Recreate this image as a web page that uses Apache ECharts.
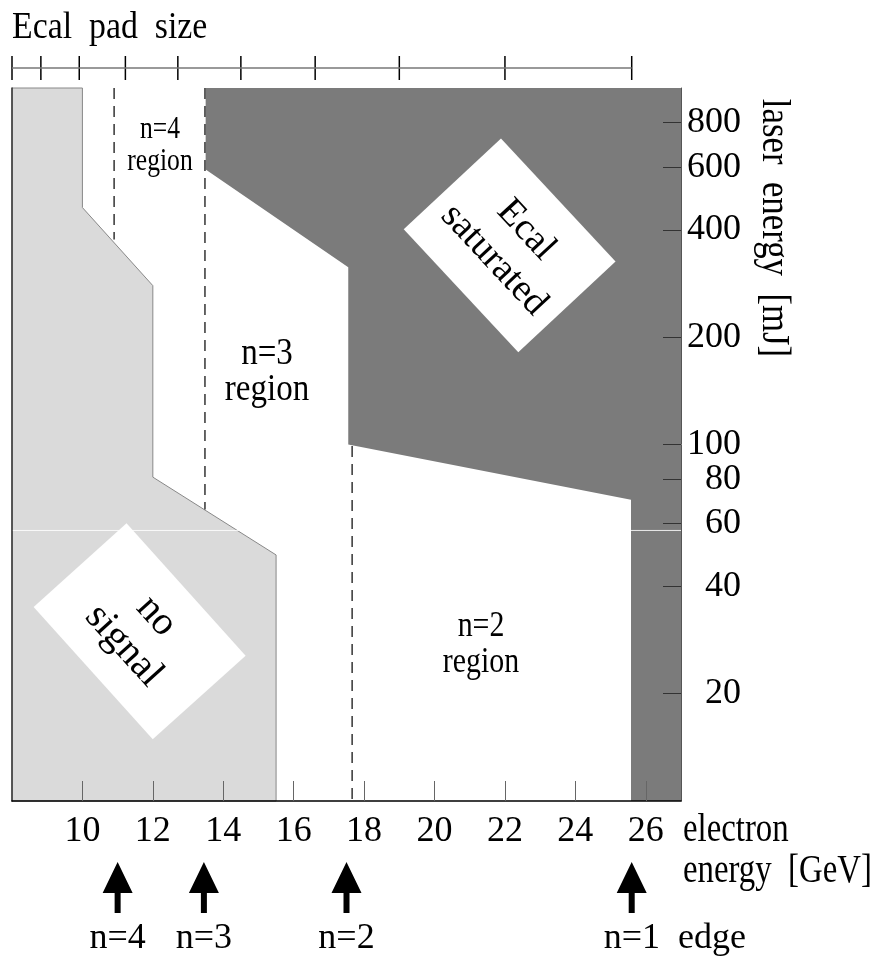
<!DOCTYPE html>
<html>
<head>
<meta charset="utf-8">
<script src="https://cdn.jsdelivr.net/npm/echarts@6/dist/echarts.min.js"></script>
<style>html,body{margin:0;padding:0;background:#fff}#c{width:878px;height:967px}</style>
</head>
<body>
<div id="c"></div>
<script>
// ---- data ----
const xRange = [8, 27];            // electron energy [GeV]
const yRange = [10, 1000];         // laser energy [mJ]
const xTicks = [10, 12, 14, 16, 18, 20, 22, 24, 26];
const yTicks = [20, 40, 60, 80, 100, 200, 400, 600, 800];
const padTicks = [8, 8.82, 9.91, 11.22, 12.71, 14.5, 16.61, 19.0, 22.0, 25.6];
const padEnd = 25.6;
const noSignalX = [8, 10, 10, 12, 12, 15.5, 15.5, 8];
const noSignalY = [1000, 1000, 462, 279, 81, 49, 10, 10];
const saturatedX = [13.5, 27, 27, 25.58, 25.58, 17.55, 17.55, 13.5];
const saturatedY = [1000, 1000, 10, 10, 70, 100, 314, 591];
const dashN4X = [10.9, 10.9], dashN4Y = [1000, 376];
const dashN3X = [13.48, 13.48], dashN3Y = [1000, 65.7];
const dashN2X = [17.66, 17.66], dashN2Y = [99, 10];
const seamY = 57.4;
const arrowX = [11.0, 13.45, 17.5, 25.6];
const arrowNames = ['n=4', 'n=3', 'n=2', 'n=1  edge'];

// ---- chart ----
const FONT = '"Liberation Serif", "Times New Roman", serif';
const zip = (xs, ys) => xs.map((x, i) => [x, ys[i]]);

function polygonSeries(pts, fill, stroke) {
  return {
    type: 'custom', xAxisIndex: 0, yAxisIndex: 0, z: 1,
    data: pts, encode: { x: 0, y: 1 }, silent: true,
    renderItem: function (params, api) {
      if (params.dataIndex !== 0) return null;
      return {
        type: 'polygon',
        shape: { points: pts.map(p => api.coord(p)) },
        style: { fill: fill, stroke: stroke, lineWidth: stroke ? 1 : 0 }
      };
    }
  };
}
function dashSeries(xs, ys) {
  return {
    type: 'line', xAxisIndex: 0, yAxisIndex: 0, z: 3, symbol: 'none', silent: true,
    data: zip(xs, ys),
    lineStyle: { color: '#333', width: 1.5, type: [11, 7] }
  };
}
function txt(x, y, text, size, sx, extra) {
  return Object.assign({
    type: 'text', x: x, y: y, z: 100, scaleX: sx,
    style: Object.assign({ text: text, fontFamily: FONT, fontSize: size, fill: '#000', align: 'center', verticalAlign: 'middle' }, extra || {})
  });
}

const chart = echarts.init(document.getElementById('c'), null, { renderer: 'canvas' });
const option = {
  animation: false,
  backgroundColor: '#fff',
  grid: [
    { left: 12, right: 197, top: 88, bottom: 166 },
    { left: 12, right: 197, top: 56, height: 24 },
    { left: 12, right: 197, top: 857, height: 61 }
  ],
  xAxis: [
    {
      gridIndex: 0, type: 'value', min: xRange[0], max: xRange[1], z: 10,
      axisLine: { show: true, onZero: false, lineStyle: { color: '#000', width: 1.5 } },
      axisTick: { show: true, inside: true, length: 20, customValues: xTicks, lineStyle: { color: '#666', width: 1 } },
      axisLabel: { show: true, customValues: xTicks, margin: 13, color: '#000', fontFamily: FONT, fontSize: 36 },
      splitLine: { show: false }
    },
    { gridIndex: 1, type: 'value', min: xRange[0], max: xRange[1], show: false },
    { gridIndex: 2, type: 'value', min: xRange[0], max: xRange[1], show: false }
  ],
  yAxis: [
    {
      gridIndex: 0, type: 'log', logBase: 10, min: yRange[0], max: yRange[1], position: 'right', z: 10,
      axisLine: { show: true, lineStyle: { color: '#555', width: 1 } },
      axisTick: { show: true, inside: true, length: 18, customValues: yTicks, lineStyle: { color: '#333', width: 1 } },
      axisLabel: { show: true, customValues: yTicks, margin: 60, align: 'right', color: '#000', fontFamily: FONT, fontSize: 36 },
      splitLine: { show: false }, minorTick: { show: false }
    },
    {
      gridIndex: 0, type: 'log', min: yRange[0], max: yRange[1], position: 'left', z: 10,
      axisLine: { show: true, lineStyle: { color: '#333', width: 1.5 } },
      axisTick: { show: false }, axisLabel: { show: false }, splitLine: { show: false }
    },
    { gridIndex: 1, type: 'value', min: 0, max: 1, show: false },
    { gridIndex: 2, type: 'value', min: 0, max: 1, show: false }
  ],
  series: [
    polygonSeries(zip(noSignalX, noSignalY), '#dadada', '#888'),
    polygonSeries(zip(saturatedX, saturatedY), '#7b7b7b', null),
    {
      type: 'line', xAxisIndex: 0, yAxisIndex: 0, z: 2, symbol: 'none', silent: true,
      data: [[xRange[0], seamY], [xRange[1], seamY]],
      lineStyle: { color: '#fff', width: 1, opacity: 0.85 }
    },
    dashSeries(dashN4X, dashN4Y),
    dashSeries(dashN3X, dashN3Y),
    dashSeries(dashN2X, dashN2Y),
    // Ecal pad size ruler
    {
      type: 'line', xAxisIndex: 1, yAxisIndex: 2, symbol: 'none', silent: true,
      data: [[padTicks[0], 0.5], [padEnd, 0.5]],
      lineStyle: { color: '#777', width: 1.5 }
    },
    {
      type: 'scatter', xAxisIndex: 1, yAxisIndex: 2, silent: true,
      data: padTicks.map(v => [v, 0.5]),
      symbol: 'rect', symbolSize: [1.5, 24],
      itemStyle: { color: '#000', opacity: 1 }
    },
    // arrows
    {
      type: 'scatter', xAxisIndex: 2, yAxisIndex: 3, silent: true,
      data: arrowX.map((v, i) => ({
        value: [v, 0.5], name: arrowNames[i],
        label: i === 3 ? { align: 'left', offset: [-28, 0] } : {}
      })),
      symbol: 'path://M15,0 L30,31 L18,31 L18,51 L12,51 L12,31 L0,31 Z',
      symbolSize: [30, 51],
      itemStyle: { color: '#000', opacity: 1 },
      label: {
        show: true, position: 'bottom', distance: 8,
        formatter: p => p.name, color: '#000', fontFamily: FONT, fontSize: 36
      }
    }
  ],
  graphic: [
    txt(12, 28, 'Ecal  pad  size', 38, 0.89, { align: 'left' }),
    Object.assign(txt(773, 228, 'laser  energy  [mJ]', 40, 0.87), { rotation: -Math.PI / 2 }),
    txt(683, 830, 'electron', 40, 0.82, { align: 'left' }),
    txt(683, 871, 'energy  [GeV]', 40, 0.82, { align: 'left' }),
    txt(160, 146, 'n=4\nregion', 32, 0.8, { lineHeight: 32 }),
    txt(267, 372, 'n=3\nregion', 38, 0.87, { lineHeight: 36 }),
    txt(481, 645, 'n=2\nregion', 36, 0.83, { lineHeight: 36 }),
    {
      type: 'group', x: 510, y: 245, rotation: -47 * Math.PI / 180,
      children: [
        { type: 'rect', z: 100, shape: { x: -84, y: -66, width: 168, height: 133 }, style: { fill: '#fff' } },
        { type: 'text', z: 101, style: { text: 'Ecal\nsaturated', fontFamily: FONT, fontSize: 38, lineHeight: 44, fill: '#000', align: 'center', verticalAlign: 'middle' } }
      ]
    },
    {
      type: 'group', x: 140, y: 631, rotation: -48 * Math.PI / 180,
      children: [
        { type: 'rect', z: 100, shape: { x: -89, y: -62, width: 178, height: 125 }, style: { fill: '#fff' } },
        { type: 'text', z: 101, style: { text: 'no\nsignal', fontFamily: FONT, fontSize: 40, lineHeight: 44, fill: '#000', align: 'center', verticalAlign: 'middle' } }
      ]
    }
  ]
};
chart.setOption(option);
</script>
</body>
</html>
